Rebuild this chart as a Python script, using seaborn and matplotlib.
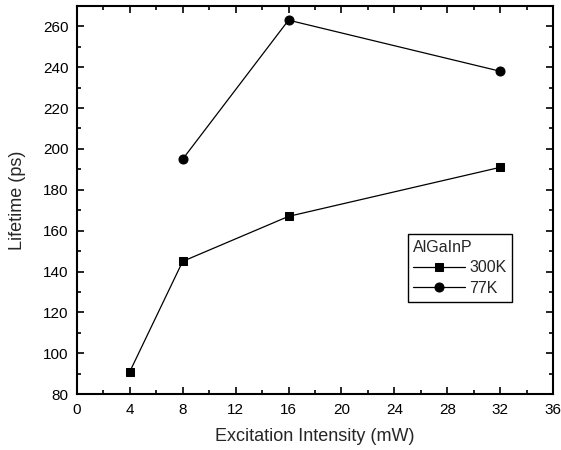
import numpy as np
import pandas as pd
import matplotlib
matplotlib.use("Agg")
import matplotlib.pyplot as plt
import seaborn as sns
from matplotlib.ticker import MultipleLocator

# du lieu doc tu hinh
x_300k = [4, 8, 16, 32]
y_300k = [91, 145, 167, 191]
x_77k = [8, 16, 32]
y_77k = [195, 263, 238]

sns.set_style("ticks")
plt.rcParams['font.family'] = ['Liberation Sans', 'DejaVu Sans']

fig = plt.figure(figsize=(5.61, 4.5), dpi=100)
ax = fig.add_axes([0.137, 0.124, 0.849, 0.863])

df1 = pd.DataFrame({'x': x_300k, 'y': y_300k})
df2 = pd.DataFrame({'x': x_77k, 'y': y_77k})
sns.lineplot(data=df1, x='x', y='y', ax=ax, color='black', marker='s', markersize=5.5,
             linewidth=0.9, label='300K', markeredgecolor='black')
sns.lineplot(data=df2, x='x', y='y', ax=ax, color='black', marker='o', markersize=6.5,
             linewidth=0.9, label='77K', markeredgecolor='black')

ax.set_xlim(0, 36)
ax.set_ylim(80, 270)
ax.xaxis.set_major_locator(MultipleLocator(4))
ax.xaxis.set_minor_locator(MultipleLocator(2))
ax.yaxis.set_major_locator(MultipleLocator(20))
ax.yaxis.set_minor_locator(MultipleLocator(10))
ax.tick_params(which='both', direction='in', top=True, right=True, labelsize=11, width=1.2, colors='black')
ax.tick_params(which='major', length=5, pad=6)
ax.tick_params(which='minor', length=3)
for s in ax.spines.values():
    s.set_linewidth(1.5)
    s.set_color('black')

ax.set_xlabel('Excitation Intensity (mW)', fontsize=13, labelpad=8)
ax.set_ylabel('Lifetime (ps)', fontsize=13, labelpad=12)

leg = ax.legend(title='AlGaInP', loc='upper left', bbox_to_anchor=(0.695, 0.412),
                fontsize=11.5, title_fontsize=11.5, frameon=True, fancybox=False,
                edgecolor='black', framealpha=1, handlelength=3.2, borderpad=0.35,
                handletextpad=0.3, labelspacing=0.35, borderaxespad=0)
leg._legend_box.align = 'left'
leg.get_frame().set_linewidth(1.0)

plt.savefig('out.png', dpi=100)
